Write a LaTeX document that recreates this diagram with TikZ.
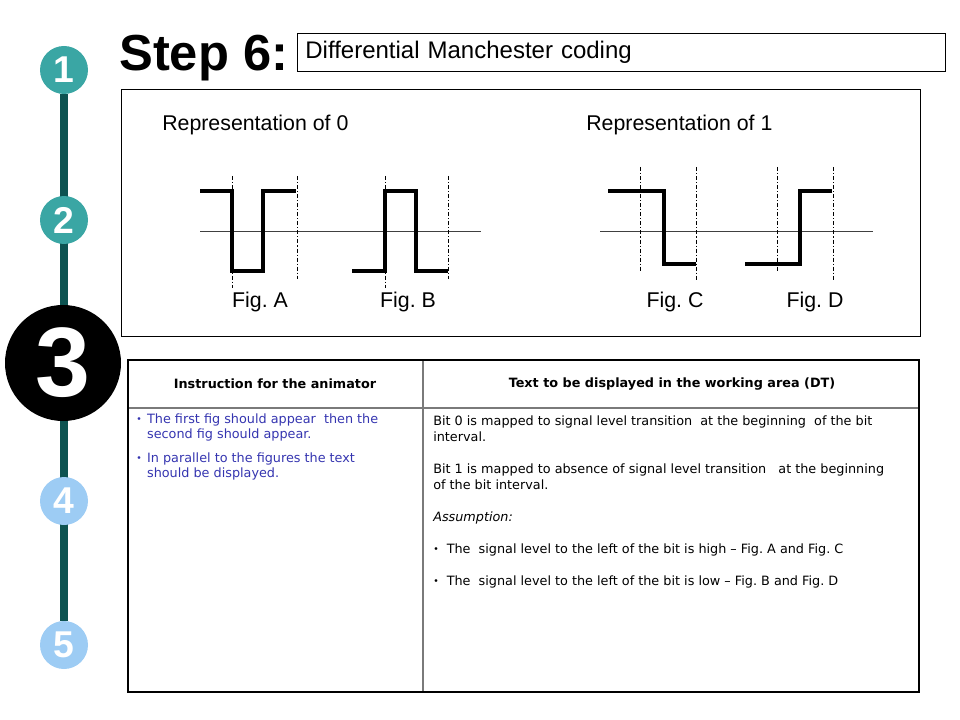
\documentclass[tikz,border=0pt]{standalone}
\usepackage{fontspec}
\setmainfont{Liberation Sans}
\newfontfamily\verd{DejaVu Sans}
\definecolor{stepteal}{HTML}{3AA6A4}
\definecolor{stepline}{HTML}{0D5351}
\definecolor{stepblue}{HTML}{9DCCF4}
\definecolor{animblue}{HTML}{3535B0}
\definecolor{gridgray}{HTML}{7A7A7A}
\usetikzlibrary{positioning, backgrounds}
\newcommand{\tabdot}{\raisebox{0.9pt}{\fontsize{7}{7}\selectfont •}}

\begin{document}
\frenchspacing
\begin{tikzpicture}[x=0.75pt, y=-0.75pt,
  stepc/.style={circle, inner sep=0pt, minimum size=36pt, text=white,
                font=\fontsize{28}{28}\selectfont\bfseries},
  bigc/.style={circle, inner sep=0pt, minimum size=87pt, fill=black, text=white,
               font=\fontsize{74}{74}\selectfont\bfseries},
  lbl/.style={font=\fontsize{16}{16}\selectfont, inner sep=0pt},
  axis/.style={line width=0.75pt, black!75},
  bitmark/.style={line width=0.6pt, dash pattern=on 3pt off 1.5pt on 0.8pt off 1.5pt},
  wave/.style={line width=2.4pt},
  head/.style={font=\verd\fontsize{9.6}{11}\selectfont\bfseries, inner sep=0pt},
  anim/.style={font=\verd\fontsize{9.6}{11.3}\selectfont, text=animblue, inner sep=0pt,
               anchor=north west, align=left},
  dtext/.style={font=\verd\fontsize{9.6}{12}\selectfont, inner sep=0pt,
                anchor=north west, align=left},
]
\useasboundingbox (0,0) rectangle (960,720);

% Progress bar
\node[stepc, fill=stepteal] (c1) at (64,70) {1};
\node[stepc, fill=stepteal] (c2) at (64,220) {2};
\node[bigc] (c3) at (63,363) {3};
\node[stepc, fill=stepblue] (c4) at (64,501) {4};
\node[stepc, fill=stepblue] (c5) at (64,645) {5};
\begin{scope}[on background layer]
  \draw[line width=6pt, stepline] (c1) -- (c5);
\end{scope}

% Title
\node[font=\fontsize{38}{40}\selectfont\bfseries, anchor=base west, inner sep=0pt] (title) at (119,71) {Step 6:};
\node[draw, line width=0.6pt, anchor=north west, inner xsep=6pt, inner ysep=0pt,
      text width=474pt, minimum height=28.5pt, align=left,
      font=\fontsize{18}{18}\selectfont] (topic) at (297,33) {Differential Manchester coding};

% Figure frame
\node[draw, line width=0.6pt, anchor=north west, inner sep=0pt,
      minimum width=599.25pt, minimum height=185.25pt] (figbox) at (121,89) {};
\node[lbl, anchor=west] (rep0) at (162,125) {Representation of 0};
\node[lbl, anchor=west] (rep1) at (586,125) {Representation of 1};

% Fig. A and Fig. B
\draw[axis] (200,232) -- (481,232);
\draw[bitmark] (232,176) -- (232,288);
\draw[bitmark] (297,176) -- (297,279);
\draw[wave] (200,191) -- (232,191) -- (232,271) -- (263,271) -- (263,191) -- (296,191);
\draw[bitmark] (385,176) -- (385,288);
\draw[bitmark] (448,176) -- (448,279);
\draw[wave] (352,271) -- (385,271) -- (385,191) -- (416,191) -- (416,271) -- (448,271);
\node[lbl] (figA) at (260,302) {Fig. A};
\node[lbl] (figB) at (408,302) {Fig. B};

% Fig. C and Fig. D
\draw[axis] (600,232) -- (873,232);
\draw[bitmark] (640,167) -- (640,272);
\draw[bitmark] (696,167) -- (696,281);
\draw[wave] (608,191) -- (664,191) -- (664,264) -- (696,264);
\draw[bitmark] (777,167) -- (777,272);
\draw[bitmark] (833,167) -- (833,281);
\draw[wave] (745,264) -- (800,264) -- (800,191) -- (832,191);
\node[lbl] (figC) at (675,302) {Fig. C};
\node[lbl] (figD) at (815,302) {Fig. D};

% Table
\draw[gridgray, line width=1.4pt] (423,360) -- (423,692);
\draw[gridgray, line width=1.4pt] (128,408) -- (919,408);
\draw[line width=2.2pt] (128,360) rectangle (919,692);
\node[head] (hanim) at (275,384) {Instruction for the animator};
\node[head] (hdt) at (672,384) {Text to be displayed in the working area (DT)};

\node[anim] (a1) at (136,413) {\begin{tabular}{@{}l@{\hspace{4pt}}l@{}}
  \tabdot & The first fig should appear\ \ then the\\
  & second fig should appear.\end{tabular}};
\node[anim] (a2) at (136,452) {\begin{tabular}{@{}l@{\hspace{4pt}}l@{}}
  \tabdot & In parallel to the figures the text\\
  & should be displayed.\end{tabular}};

\node[dtext] (d1) at (433,416) {Bit 0 is mapped to signal level transition\ \ at the beginning\ \ of the bit\\interval.};
\node[dtext] (d2) at (433,464) {Bit 1 is mapped to absence of signal level transition\ \ \ at the beginning\\of the bit interval.};
\node[dtext] (d3) at (433,512) {\itshape Assumption:};
\node[dtext] (d4) at (433,544) {\tabdot\hspace{6pt}The\ \ signal level to the left of the bit is high – Fig. A and Fig. C};
\node[dtext] (d5) at (433,576) {\tabdot\hspace{6pt}The\ \ signal level to the left of the bit is low – Fig. B and Fig. D};

\end{tikzpicture}
\end{document}
